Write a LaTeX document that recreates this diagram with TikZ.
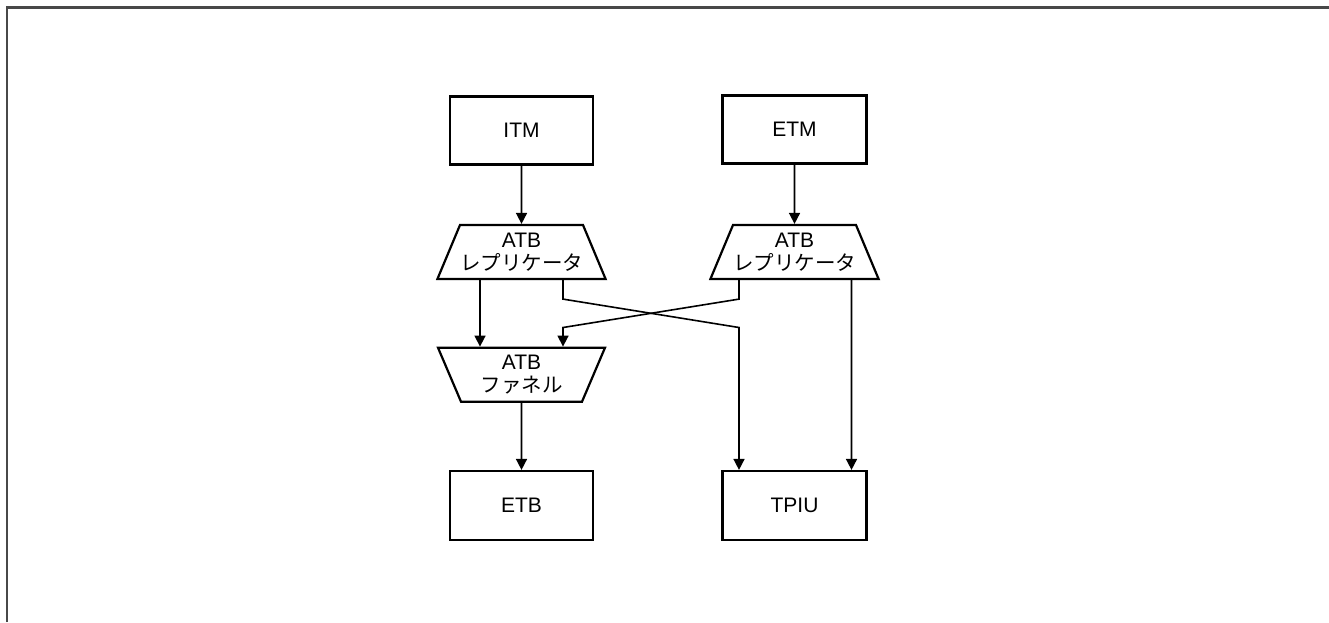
\documentclass[tikz,border=0pt]{standalone}
\usepackage{fontspec}
\setmainfont{Liberation Sans}
\newfontfamily\jp{Noto Sans CJK JP}
\usetikzlibrary{arrows.meta,shapes.geometric,calc}
\tikzset{
  blk/.style={draw, line width=2.2pt, rectangle, minimum width=143pt, minimum height=68pt, inner sep=0pt, font=\fontsize{21}{24}\selectfont},
  rep/.style={draw, line width=2.2pt, trapezium, trapezium stretches body, minimum width=167pt, minimum height=54pt, trapezium left angle=59.5, trapezium right angle=59.5, inner sep=0pt, align=center, font=\fontsize{21}{24}\selectfont},
  fun/.style={draw, line width=2.2pt, trapezium, trapezium stretches body, minimum width=167pt, minimum height=54pt, trapezium left angle=120.5, trapezium right angle=120.5, inner sep=0pt, align=center, font=\fontsize{21}{24}\selectfont},
  jptext/.style={font=\jp\fontsize{21}{24}\selectfont},
  arr/.style={line width=1.6pt, -{Triangle[length=11pt,width=11pt]}},
  frame/.style={line width=2.6pt, draw={rgb,255:red,72;green,72;blue,72}}
}
\begin{document}
\begin{tikzpicture}[x=1pt,y=-1pt]
\useasboundingbox (0,0) rectangle (1329,622);
\draw[frame] (7,622) -- (7,7.5) -- (1329,7.5);
\node[blk] (itm) at (521.5,130.5) {ITM};
\node[blk, minimum width=144pt] (etm) at (794.5,129.5) {ETM};
\node[rep] (rep1) at (521.5,252) {ATB\\[-1pt]{\jp\fontsize{20.5}{24}\selectfont レプリケータ}};
\node[rep] (rep2) at (794.5,252) {ATB\\[-1pt]{\jp\fontsize{20.5}{24}\selectfont レプリケータ}};
\node[fun] (fun) at (521.5,374.7) {ATB\\[-1pt]{\jp\fontsize{20.5}{24}\selectfont ファネル}};
\node[blk, minimum height=69pt] (etb) at (521.5,505.5) {ETB};
\node[blk, minimum width=144pt, minimum height=69pt] (tpiu) at (794.5,505.5) {TPIU};
\draw[arr] (itm.south) -- (rep1.north);
\draw[arr] (etm.south) -- (rep2.north);
\draw[arr] ([xshift=-41.5pt]rep1.south) -- ([xshift=-41.5pt]fun.north);
\draw[arr] ([xshift=41.5pt]rep1.south) -- ++(0,19) -- ++(176,28.4) -- ([xshift=-55.5pt]tpiu.north);
\draw[arr] ([xshift=-55.5pt]rep2.south) -- ++(0,19) -- ++(-176,28.4) -- ([xshift=41.5pt]fun.north);
\draw[arr] ([xshift=57pt]rep2.south) -- ([xshift=57pt]tpiu.north);
\draw[arr] (fun.south) -- (etb.north);
\end{tikzpicture}
\end{document}
